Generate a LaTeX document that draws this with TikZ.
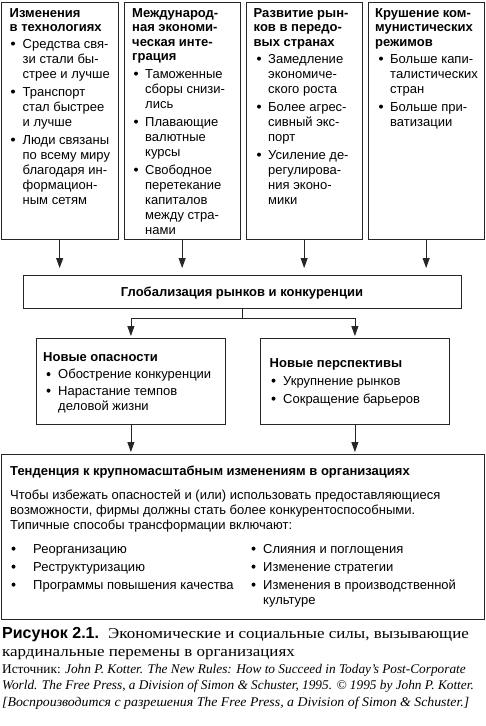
\documentclass[tikz,border=0pt]{standalone}
\usepackage{fontspec}
\setmainfont{Liberation Serif}
\setsansfont{Liberation Sans}
\newfontfamily\capfont[FakeStretch=1.13]{Liberation Serif}
\newfontfamily\srcwide[FakeStretch=1.04]{Liberation Serif}
\usetikzlibrary{arrows.meta}
\newcommand\tlines[6]{\foreach \myline [count=\k] in {#6} {\node[#1, anchor=base west, inner sep=0pt] (#2-\k) at (#3, {#4+#5*(\k-1)}) {\myline};}}
\newcommand\bitem[5]{\fill[black] (#2,{#4-4.4}) circle[radius=2pt]; \tlines{body}{#1}{#3}{#4}{15}{#5}}
\tikzset{
  body/.style={font=\sffamily\fontsize{13}{15}\selectfont},
  head/.style={font=\sffamily\bfseries\fontsize{13}{15}\selectfont},
  capt/.style={font=\capfont\fontsize{15}{18}\selectfont, inner sep=0pt, anchor=base west},
  src/.style={font=\rmfamily\fontsize{13.3}{16}\selectfont, inner sep=0pt, anchor=base west},
  frame/.style={draw=black!85, line width=0.8pt, inner sep=0pt, anchor=north west},
  link/.style={draw=black!85, line width=0.8pt},
  arr/.style={link, -{Triangle[length=10pt,width=7pt]}},
}
\begin{document}
\begin{tikzpicture}[x=1pt,y=-1pt]
\useasboundingbox[fill=white] (0,0) rectangle (485,726);
% frames
\node[frame, minimum width=116.5pt, minimum height=237pt] (b1) at (1,1.5) {};
\node[frame, minimum width=116.5pt, minimum height=237pt] (b2) at (123.5,1.5) {};
\node[frame, minimum width=116.5pt, minimum height=237pt] (b3) at (245.5,1.5) {};
\node[frame, minimum width=116.5pt, minimum height=237pt] (b4) at (367.5,1.5) {};
\node[frame, minimum width=438pt, minimum height=33pt] (glob) at (23,275) {};
\node[frame, minimum width=189pt, minimum height=86pt] (opas) at (36,338) {};
\node[frame, minimum width=189pt, minimum height=86pt] (persp) at (260,338) {};
\node[frame, minimum width=483pt, minimum height=165pt] (trend) at (1,454) {};
% connectors
\foreach \b in {b1,b2,b3,b4} \draw[arr, shorten >=7pt] (\b.south) -- (\b.south |- glob.north);
\draw[link] (glob.south) -- ++(0,10) coordinate (split);
\draw[arr, shorten >=2pt] (split) -| (opas.north);
\draw[arr, shorten >=2pt] (split) -| (persp.north);
\draw[arr, shorten >=2pt] (opas.south) -- (opas.south |- trend.north);
\draw[arr, shorten >=2pt] (persp.south) -- (persp.south |- trend.north);
% box 1
\tlines{head}{h1}{9.5}{17}{14.5}{Изменения, в технологиях}
\bitem{i11}{13}{22.5}{48}{Средства свя-, зи стали бы-, стрее и лучше}
\bitem{i12}{13}{22.5}{96}{Транспорт, стал быстрее, и лучше}
\bitem{i13}{13}{22.5}{144}{Люди связаны, по всему миру, благодаря ин-, формацион-, ным сетям}
% box 2
\tlines{head}{h2}{132}{17}{14.5}{Международ-, ная экономи-, ческая инте-, грация}
\bitem{i21}{136}{145}{78}{Таможенные, сборы снизи-, лись}
\bitem{i22}{136}{145}{126}{Плавающие, валютные, курсы}
\bitem{i23}{136}{145}{174}{Свободное, перетекание, капиталов, между стра-, нами}
% box 3
\tlines{head}{h3}{253.5}{17}{14.5}{Развитие рын-, ков в передо-, вых странах}
\bitem{i31}{259}{268}{63}{Замедление, экономиче-, ского роста}
\bitem{i32}{259}{268}{111}{Более агрес-, сивный экс-, порт}
\bitem{i33}{259}{268}{159}{Усиление де-, регулирова-, ния эконо-, мики}
% box 4
\tlines{head}{h4}{375}{17}{14.5}{Крушение ком-, мунистических, режимов}
\bitem{i41}{381}{390}{63}{Больше капи-, талистических, стран}
\bitem{i42}{381}{390}{111}{Больше при-, ватизации}
% globalisation
\node[head, anchor=base, inner sep=0pt] (globt) at (242,296) {Глобализация рынков и конкуренции};
% threats
\node[head, anchor=base west, inner sep=0pt] (opast) at (43,361) {Новые опасности};
\bitem{i51}{48.5}{58}{378.5}{Обострение конкуренции}
\bitem{i52}{48.5}{58}{395}{Нарастание темпов, деловой жизни}
% opportunities
\node[head, anchor=base west, inner sep=0pt] (perspt) at (269.5,367) {Новые перспективы};
\bitem{i61}{273.5}{283}{385}{Укрупнение рынков}
\bitem{i62}{273.5}{283}{403}{Сокращение барьеров}
% trend
\node[head, anchor=base west, inner sep=0pt] (trendt) at (10,475) {Тенденция к крупномасштабным изменениям в организациях};
\tlines{body}{para}{10}{499}{15}{Чтобы избежать опасностей и (или) использовать предоставляющиеся, {возможности, фирмы должны стать более конкурентоспособными.}, Типичные способы трансформации включают:}
\bitem{i71}{13.5}{33}{553}{Реорганизацию}
\bitem{i72}{13.5}{33}{571}{Реструктуризацию}
\bitem{i73}{13.5}{33}{589}{Программы повышения качества}
\bitem{i81}{253.5}{263}{553}{Слияния и поглощения}
\bitem{i82}{253.5}{263}{571}{Изменение стратегии}
\bitem{i83}{253.5}{263}{589}{Изменения в производственной, культуре}
% caption
\node[font=\sffamily\bfseries\fontsize{16}{18}\selectfont, inner sep=0pt, anchor=base west] (figno) at (2,638) {Рисунок 2.1.};
\node[capt] (cap1) at (108,638) {Экономические и социальные силы, вызывающие};
\node[capt] (cap2) at (2,656) {кардинальные перемены в организациях};
\node[src] (src1) at (2,673) {Источник: \textit{John P. Kotter. The New Rules: How to Succeed in Today’s Post-Corporate}};
\node[src] (src2) at (2,689.5) {\textit{World. The Free Press, a Division of Simon \& Schuster, 1995. © 1995 by John P. Kotter.}};
\node[src, font=\srcwide\fontsize{13.3}{16}\selectfont] (src3) at (2,706) {\textit{[Воспроизводится с разрешения The Free Press, a Division of Simon \& Schuster.]}};
\end{tikzpicture}
\end{document}
